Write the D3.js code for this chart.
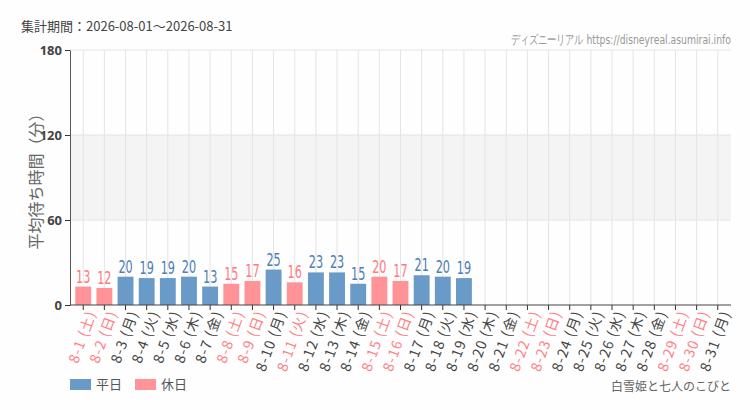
<!DOCTYPE html>
<html>
<head>
<meta charset="utf-8">
<script src="https://cdn.jsdelivr.net/npm/d3@7"></script>
<style>
  body { margin: 0; background: #fdfefd; }
  svg { display: block; }
  .narrow { font-family: "DejaVu Sans", sans-serif; }
</style>
</head>
<body>
<div id="chart"></div>
<script>
// data
const days = ["8-1","8-2","8-3","8-4","8-5","8-6","8-7","8-8","8-9","8-10","8-11","8-12","8-13","8-14","8-15","8-16","8-17","8-18","8-19","8-20","8-21","8-22","8-23","8-24","8-25","8-26","8-27","8-28","8-29","8-30","8-31"];
const weekdays = ["土","日","月","火","水","木","金","土","日","月","火","水","木","金","土","日","月","火","水","木","金","土","日","月","火","水","木","金","土","日","月"];
const holidays = ["8-1","8-2","8-8","8-9","8-11","8-15","8-16","8-22","8-23","8-29","8-30"];
const waits = [13,12,20,19,19,20,13,15,17,25,16,23,23,15,20,17,21,20,19,null,null,null,null,null,null,null,null,null,null,null,null];
const yTicks = [0, 60, 120, 180];

const width = 750, height = 410;
const margin = { top: 50, right: 19, bottom: 105, left: 70 };

const svg = d3.select("#chart").append("svg")
  .attr("width", width)
  .attr("height", height);

const x = d3.scaleBand()
  .domain(days)
  .range([margin.left, width - margin.right])
  .padding(0.25);

const y = d3.scaleLinear()
  .domain([0, 180])
  .range([height - margin.bottom, margin.top]);

const isHoliday = d => holidays.includes(d);

// shaded band 60-120
svg.append("rect")
  .attr("x", margin.left)
  .attr("y", y(120))
  .attr("width", width - margin.right - margin.left)
  .attr("height", y(60) - y(120))
  .attr("fill", "#f4f4f4");

// horizontal grid
svg.append("g")
  .selectAll("line")
  .data(yTicks.filter(d => d > 0))
  .join("line")
  .attr("x1", margin.left)
  .attr("x2", width - margin.right)
  .attr("y1", d => y(d))
  .attr("y2", d => y(d))
  .attr("stroke", "#e4e4e4");

// vertical grid
svg.append("g")
  .selectAll("line")
  .data(days)
  .join("line")
  .attr("x1", d => x(d) + x.bandwidth() / 2)
  .attr("x2", d => x(d) + x.bandwidth() / 2)
  .attr("y1", y(180))
  .attr("y2", y(0))
  .attr("stroke", "#e4e4e4");

const rows = days.map((d, i) => ({ day: d, wd: weekdays[i], v: waits[i] }));

// bars
svg.append("g")
  .selectAll("rect")
  .data(rows.filter(r => r.v != null))
  .join("rect")
  .attr("x", r => x(r.day))
  .attr("y", r => y(r.v))
  .attr("width", x.bandwidth())
  .attr("height", r => y(0) - y(r.v))
  .attr("fill", r => isHoliday(r.day) ? "#ff9397" : "#6a9ac7");

// value labels (squeezed horizontally to look condensed)
svg.append("g")
  .selectAll("text")
  .data(rows.filter(r => r.v != null))
  .join("text")
  .attr("class", "narrow")
  .attr("transform", r => `translate(${x(r.day) + x.bandwidth() / 2},${y(r.v) - 4}) scale(0.66,1)`)
  .attr("text-anchor", "middle")
  .style("font-size", "17px")
  .attr("fill", r => isHoliday(r.day) ? "#ff7a82" : "#4d7db3")
  .text(r => r.v);

// y axis
const yAxis = svg.append("g")
  .attr("transform", `translate(${margin.left},0)`)
  .call(d3.axisLeft(y).tickValues(yTicks).tickSize(5).tickSizeOuter(0));
yAxis.select(".domain").attr("stroke", "#555");
yAxis.selectAll(".tick line").attr("stroke", "#333");
yAxis.selectAll(".tick text")
  .style("font-family", "'Noto Sans', sans-serif")
  .style("font-size", "13px")
  .style("font-weight", "bold")
  .attr("fill", "#444");

// x axis
const xAxis = svg.append("g")
  .attr("transform", `translate(0,${y(0)})`)
  .call(d3.axisBottom(x).tickSize(5).tickSizeOuter(0));
xAxis.select(".domain").attr("stroke", "#444").attr("d", `M${margin.left},0H${width - margin.right}`);
xAxis.selectAll(".tick line").attr("stroke", "#333");
xAxis.selectAll(".tick text")
  .text(d => `${d} (${weekdays[days.indexOf(d)]})`)
  .style("font-family", "'Noto Sans CJK JP', sans-serif")
  .style("font-size", "14px")
  .style("letter-spacing", "1.1px")
  .attr("fill", d => isHoliday(d) ? "#ff7f86" : "#444")
  .attr("text-anchor", "end")
  .attr("dx", "-0.2em")
  .attr("dy", "0.5em")
  .attr("y", 8)
  .attr("transform", "rotate(-70)");

// y axis title
svg.append("text")
  .attr("transform", `translate(42,${(y(0) + y(180)) / 2}) rotate(-90)`)
  .attr("text-anchor", "middle")
  .style("font-family", "'Noto Sans CJK JP', sans-serif")
  .style("font-size", "16px")
  .attr("fill", "#666")
  .text("平均待ち時間（分）");

// header
svg.append("text")
  .attr("x", 21)
  .attr("y", 31)
  .style("font-family", "'Noto Sans CJK JP', sans-serif")
  .style("font-size", "13px")
  .attr("fill", "#444")
  .text("集計期間：2026-08-01～2026-08-31");

// site credit, squeezed to the reference width
const credit = svg.append("text")
  .attr("class", "narrow")
  .attr("text-anchor", "end")
  .style("font-size", "13px")
  .attr("fill", "#999")
  .text("ディズニーリアル https://disneyreal.asumirai.info");
const creditScale = Math.min(1, 222 / credit.node().getComputedTextLength());
credit.attr("transform", `translate(${width - margin.right},44) scale(${creditScale},1)`);

// legend
const legend = [
  { label: "平日", color: "#6a9ac7" },
  { label: "休日", color: "#ff9397" }
];
const lg = svg.append("g").attr("transform", "translate(70,379)");
const item = lg.selectAll("g")
  .data(legend)
  .join("g")
  .attr("transform", (d, i) => `translate(${i * 65},0)`);
item.append("rect")
  .attr("width", 21)
  .attr("height", 11)
  .attr("fill", d => d.color);
item.append("text")
  .attr("x", 26)
  .attr("y", 10)
  .style("font-family", "'Noto Sans CJK JP', sans-serif")
  .style("font-size", "13px")
  .attr("fill", "#555")
  .text(d => d.label);

// attraction name
svg.append("text")
  .attr("x", width - margin.right)
  .attr("y", 391)
  .attr("text-anchor", "end")
  .style("font-family", "'Noto Sans CJK JP', sans-serif")
  .style("font-size", "12px")
  .attr("fill", "#666")
  .text("白雪姫と七人のこびと");
</script>
</body>
</html>
